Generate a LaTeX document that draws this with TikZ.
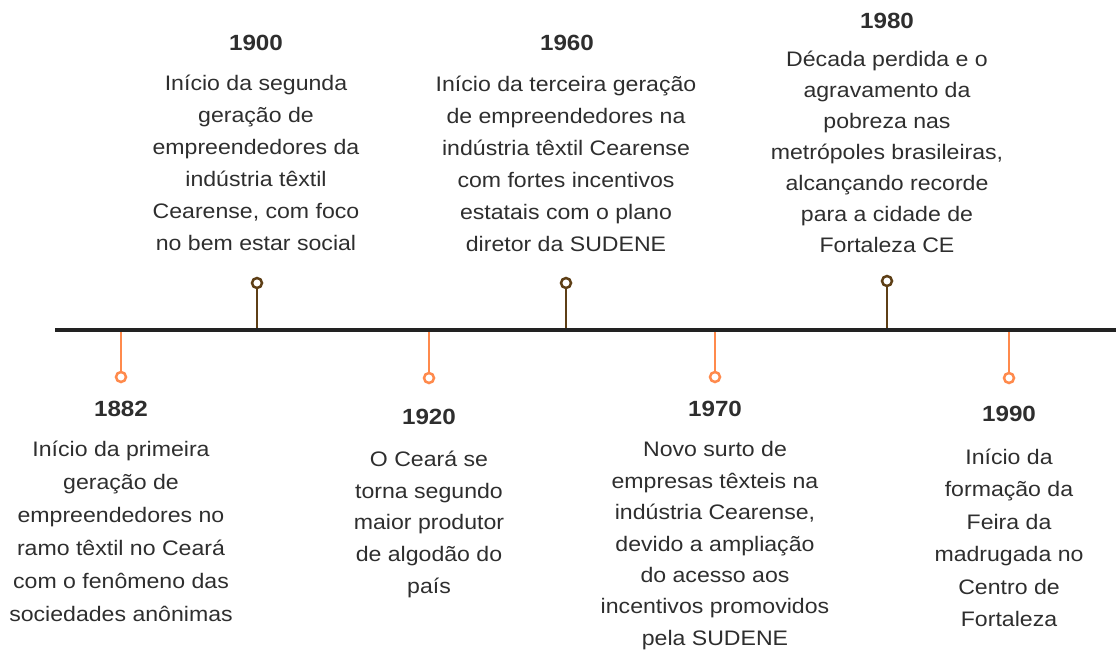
\documentclass[tikz,border=0pt]{standalone}
\usepackage{fontspec}
\setmainfont{Liberation Sans}[FakeStretch=1.1]
\definecolor{txt}{HTML}{2E2E2E}
\definecolor{brownc}{HTML}{5E3F16}
\definecolor{orangec}{HTML}{FF8A4C}
\definecolor{linec}{HTML}{222222}
\newcommand{\topstrut}{\rule{0pt}{24pt}}
\begin{document}
\begin{tikzpicture}[x=1pt,y=-1pt,
  year/.style={anchor=base, inner sep=0pt, text=txt, font=\fontsize{22}{26}\selectfont\bfseries},
  body/.style={anchor=north, inner sep=0pt, align=center, text=txt, font=\fontsize{21}{#1}\selectfont},
  pin/.style={circle, draw=#1, fill=white, line width=2.5pt, minimum size=10pt, inner sep=0pt},
  stem/.style={draw=#1, line width=2.6pt}
]
\useasboundingbox (0,0) rectangle (1116,656);

% timeline anchor points
\coordinate (L) at (55,330);
\coordinate (R) at (1116,330);
\coordinate (p1882) at (121,330);
\coordinate (p1900) at (257,330);
\coordinate (p1920) at (429,330);
\coordinate (p1960) at (566,330);
\coordinate (p1970) at (715,330);
\coordinate (p1980) at (887,330);
\coordinate (p1990) at (1009,330);

% pins
\node[pin=orangec] (c1882) at (121,377) {};
\node[pin=brownc]  (c1900) at (257,283) {};
\node[pin=orangec] (c1920) at (429,378) {};
\node[pin=brownc]  (c1960) at (566,283) {};
\node[pin=orangec] (c1970) at (715,377) {};
\node[pin=brownc]  (c1980) at (887,281) {};
\node[pin=orangec] (c1990) at (1009,378) {};

% stems
\draw[stem=orangec] (p1882) -- (c1882);
\draw[stem=brownc]  (p1900) -- (c1900);
\draw[stem=orangec] (p1920) -- (c1920);
\draw[stem=brownc]  (p1960) -- (c1960);
\draw[stem=orangec] (p1970) -- (c1970);
\draw[stem=brownc]  (p1980) -- (c1980);
\draw[stem=orangec] (p1990) -- (c1990);

% main line
\draw[linec, line width=4pt] (L) -- (R);

% years
\node[year] (y1882) at (121,416.7) {1882};
\node[year] (y1900) at (256,50) {1900};
\node[year] (y1920) at (429,424.3) {1920};
\node[year] (y1960) at (567,50.7) {1960};
\node[year] (y1970) at (715,416.7) {1970};
\node[year] (y1980) at (887,28.3) {1980};
\node[year] (y1990) at (1009,421.7) {1990};

% texts
\node[body=32.9] (t1882) at (121,432.7) {\topstrut Início da primeira\\geração de\\empreendedores no\\ramo têxtil no Ceará\\com o fenômeno das\\sociedades anônimas};
\node[body=32] (t1900) at (256,66.7) {\topstrut Início da segunda\\geração de\\empreendedores da\\indústria têxtil\\Cearense, com foco\\no bem estar social};
\node[body=31.8] (t1920) at (429,442) {\topstrut O Ceará se\\torna segundo\\maior produtor\\de algodão do\\país};
\node[body=32.1] (t1960) at (566,67) {\topstrut Início da terceira geração\\de empreendedores na\\indústria têxtil Cearense\\com fortes incentivos\\estatais com o plano\\diretor da SUDENE};
\node[body=31.4] (t1970) at (715,432.7) {\topstrut Novo surto de\\empresas têxteis na\\indústria Cearense,\\devido a ampliação\\do acesso aos\\incentivos promovidos\\pela SUDENE};
\node[body=30.9] (t1980) at (887,42.7) {\topstrut Década perdida e o\\agravamento da\\pobreza nas\\metrópoles brasileiras,\\alcançando recorde\\para a cidade de\\Fortaleza CE};
\node[body=32.5] (t1990) at (1009,440) {\topstrut Início da\\formação da\\Feira da\\madrugada no\\Centro de\\Fortaleza};
\end{tikzpicture}
\end{document}
